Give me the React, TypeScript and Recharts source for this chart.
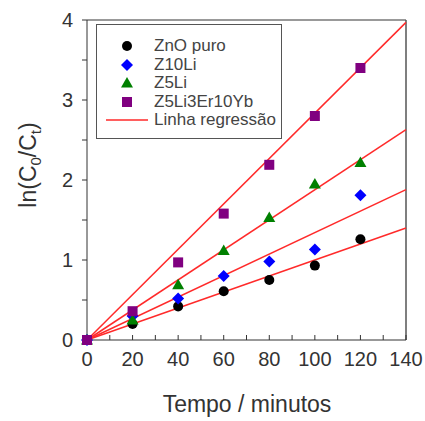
import React from "react"
import {
  ComposedChart,
  Line,
  Scatter,
  XAxis,
  YAxis,
  ReferenceLine,
  Label,
} from "recharts"

// time points (minutes)
const tempo = [0, 20, 40, 60, 80, 100, 120]

// ln(C0/Ct) per sample
const znoPuro = [0, 0.2, 0.42, 0.61, 0.75, 0.93, 1.26]
const z10Li = [0, 0.3, 0.52, 0.8, 0.98, 1.13, 1.81]
const z5Li = [0, 0.25, 0.69, 1.12, 1.53, 1.95, 2.22]
const z5Li3Er10Yb = [0, 0.36, 0.97, 1.58, 2.19, 2.8, 3.4]

// regression lines, read at both ends of the axis
const regTempo = [0, 140]
const regZno = [0, 1.4]
const regZ10Li = [0, 1.88]
const regZ5Li = [0, 2.63]
const regZ5Li3Er10Yb = [0, 3.97]

const xTicks = [0, 10, 20, 30, 40, 50, 60, 70, 80, 90, 100, 110, 120, 130, 140]
const yTicks = [0, 0.5, 1, 1.5, 2, 2.5, 3, 3.5, 4]

const toPoints = (xs: number[], ys: number[]) => xs.map((x, i) => ({ x, y: ys[i] }))

const RED = "#ff2a2a"
const TEXT = "#333"

const circle = (fill: string) => (p: any) => <circle cx={p.cx} cy={p.cy} r={5} fill={fill} />
const diamond = (fill: string) => (p: any) => (
  <path d={`M${p.cx},${p.cy - 6}L${p.cx + 6},${p.cy}L${p.cx},${p.cy + 6}L${p.cx - 6},${p.cy}Z`} fill={fill} />
)
const triangle = (fill: string) => (p: any) => (
  <path d={`M${p.cx},${p.cy - 6}L${p.cx + 6},${p.cy + 4.5}L${p.cx - 6},${p.cy + 4.5}Z`} fill={fill} />
)
const square = (fill: string) => (p: any) => (
  <rect x={p.cx - 5} y={p.cy - 5} width={10} height={10} fill={fill} />
)

const legendItems = [
  { label: "ZnO puro", color: "#000", kind: "circle" },
  { label: "Z10Li", color: "#0000ff", kind: "diamond" },
  { label: "Z5Li", color: "#008000", kind: "triangle" },
  { label: "Z5Li3Er10Yb", color: "#800080", kind: "square" },
  { label: "Linha regressão", color: RED, kind: "line" },
]

function LegendIcon({ kind, color }: { kind: string; color: string }) {
  return (
    <svg width={44} height={16} style={{ display: "block" }}>
      {kind === "circle" && circle(color)({ cx: 22, cy: 8 })}
      {kind === "diamond" && diamond(color)({ cx: 22, cy: 8 })}
      {kind === "triangle" && triangle(color)({ cx: 22, cy: 8 })}
      {kind === "square" && square(color)({ cx: 22, cy: 8 })}
      {kind === "line" && <line x1={1} y1={8} x2={43} y2={8} stroke={color} strokeWidth={1.5} />}
    </svg>
  )
}

export default function App() {
  return (
    <div
      style={{
        position: "absolute",
        left: 0,
        top: 0,
        width: 425,
        height: 421,
        background: "#fff",
        fontFamily: "'Liberation Sans', Arial, sans-serif",
      }}
    >
      <ComposedChart width={425} height={421} margin={{ top: 20, right: 19, left: 0, bottom: 0 }}>
        <XAxis
          dataKey="x"
          type="number"
          domain={[0, 140]}
          ticks={xTicks}
          tickFormatter={(v: number) => (v % 20 === 0 ? String(v) : "")}
          tickSize={-5}
          tickMargin={17}
          height={81}
          interval={0}
          axisLine={{ stroke: TEXT }}
          tickLine={{ stroke: TEXT }}
          tick={{ fontSize: 20, fill: TEXT }}
        >
          <Label
            content={() => (
              <text x={247} y={412} textAnchor="middle" fontSize={23} fill={TEXT}>
                Tempo / minutos
              </text>
            )}
          />
        </XAxis>
        <YAxis
          type="number"
          domain={[0, 4]}
          ticks={yTicks}
          tickFormatter={(v: number) => (Number.isInteger(v) ? String(v) : "")}
          tickSize={5}
          tickMargin={9}
          width={87}
          interval={0}
          axisLine={{ stroke: TEXT }}
          tickLine={{ stroke: TEXT }}
          tick={{ fontSize: 20, fill: TEXT }}
        >
          <Label
            content={() => (
              <text
                x={0}
                y={0}
                transform="translate(36,165) rotate(-90)"
                textAnchor="middle"
                fontSize={23}
                fill={TEXT}
              >
                ln(C
                <tspan fontSize={15} dy={5}>0</tspan>
                <tspan dy={-5}>/C</tspan>
                <tspan fontSize={15} dy={5}>t</tspan>
                <tspan dy={-5}>)</tspan>
              </text>
            )}
          />
        </YAxis>
        <ReferenceLine y={4} stroke="#777" strokeWidth={1.5} />
        <ReferenceLine x={140} stroke="#555" strokeWidth={1.5} />

        <Line data={toPoints(regTempo, regZno)} dataKey="y" stroke={RED} strokeWidth={1.5} dot={false} isAnimationActive={false} />
        <Line data={toPoints(regTempo, regZ10Li)} dataKey="y" stroke={RED} strokeWidth={1.5} dot={false} isAnimationActive={false} />
        <Line data={toPoints(regTempo, regZ5Li)} dataKey="y" stroke={RED} strokeWidth={1.5} dot={false} isAnimationActive={false} />
        <Line data={toPoints(regTempo, regZ5Li3Er10Yb)} dataKey="y" stroke={RED} strokeWidth={1.5} dot={false} isAnimationActive={false} />

        <Scatter data={toPoints(tempo, znoPuro)} dataKey="y" shape={circle("#000")} isAnimationActive={false} />
        <Scatter data={toPoints(tempo, z10Li)} dataKey="y" shape={diamond("#0000ff")} isAnimationActive={false} />
        <Scatter data={toPoints(tempo, z5Li)} dataKey="y" shape={triangle("#008000")} isAnimationActive={false} />
        <Scatter data={toPoints(tempo, z5Li3Er10Yb)} dataKey="y" shape={square("#800080")} isAnimationActive={false} />
      </ComposedChart>

      <div
        style={{
          position: "absolute",
          left: 96,
          top: 24,
          width: 186,
          height: 115,
          border: "1.5px solid #555",
          background: "#fff",
          boxSizing: "border-box",
          paddingTop: 12,
        }}
      >
        {legendItems.map((it) => (
          <div key={it.label} style={{ display: "flex", alignItems: "center", height: 18.5 }}>
            <div style={{ marginLeft: 8 }}>
              <LegendIcon kind={it.kind} color={it.color} />
            </div>
            <span style={{ marginLeft: 5, fontSize: 17, color: "#444", lineHeight: "18px" }}>{it.label}</span>
          </div>
        ))}
      </div>
    </div>
  )
}
